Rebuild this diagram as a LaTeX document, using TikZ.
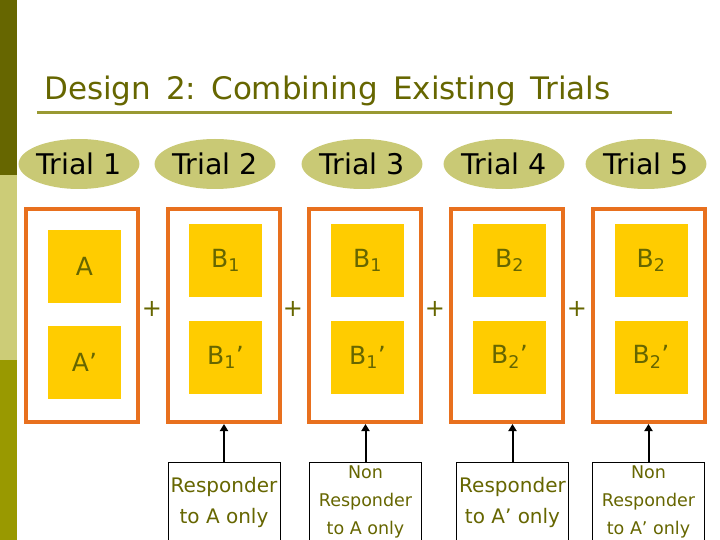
\documentclass[tikz,border=0pt]{standalone}
\usepackage{fontspec}
\setmainfont{DejaVu Sans}
\usetikzlibrary{arrows.meta,shapes.geometric}
\definecolor{olivedark}{HTML}{666600}
\definecolor{olivemid}{HTML}{999900}
\definecolor{olivelight}{HTML}{CCCC77}
\definecolor{ellfill}{HTML}{C9C975}
\definecolor{boxorange}{HTML}{E8701E}
\definecolor{sqyellow}{HTML}{FFCC00}
\definecolor{rulecol}{HTML}{999933}
\newcommand{\tsp}{\hspace{15pt}}
\tikzset{
  trialell/.style={ellipse, fill=ellfill, minimum width=108pt, minimum height=50pt, inner sep=0pt, font=\fontsize{28.5}{32}\selectfont, text=black},
  trialbox/.style={draw=boxorange, line width=4pt, minimum width=112pt, minimum height=213pt, inner sep=0pt},
  sq/.style={fill=sqyellow, minimum width=73pt, minimum height=73pt, inner sep=0pt, text=olivedark, font=\fontsize{25}{29}\selectfont},
  plussign/.style={text=olivedark, font=\fontsize{24}{28}\selectfont, inner sep=0pt},
  notebox/.style={draw=black, line width=1pt, minimum width=112pt, minimum height=80pt, inner sep=0pt, align=center, text=olivedark},
  upar/.style={-{Triangle[width=8pt,length=7pt]}, line width=2pt, black}
}
\begin{document}
\begin{tikzpicture}[x=1pt,y=-1pt]
\useasboundingbox (0,0) rectangle (720,540);
\fill[white] (0,0) rectangle (720,540);
% left bar
\fill[olivedark] (0,0) rectangle (17,175);
\fill[olivelight] (0,175) rectangle (17,360);
\fill[olivemid] (0,360) rectangle (17,540);
% title
\node[anchor=base west, inner sep=0pt, text=olivedark, font=\fontsize{31}{36}\selectfont] (title) at (44,100) {Design\tsp 2:\tsp Combining\tsp Existing\tsp Trials};
\draw[rulecol, line width=3pt] (37,113) -- (672,113);
% trial labels
\node[trialell] (t1) at (79,164) {Trial 1};
\node[trialell] (t2) at (215,164) {Trial 2};
\node[trialell] (t3) at (362,164) {Trial 3};
\node[trialell] (t4) at (504,164) {Trial 4};
\node[trialell] (t5) at (646,164) {Trial 5};
% orange boxes
\node[trialbox] (b1) at (82,315.5) {};
\node[trialbox] (b2) at (224,315.5) {};
\node[trialbox] (b3) at (365,315.5) {};
\node[trialbox] (b4) at (507,315.5) {};
\node[trialbox] (b5) at (649,315.5) {};
% squares
\node[sq] (s1a) at (84.5,266.5) {A};
\node[sq] (s1b) at (84.5,362) {A’};
\node[sq] (s2a) at (225.5,260.5) {B\textsubscript{1}};
\node[sq] (s2b) at (225.5,357) {B\textsubscript{1}’};
\node[sq] (s3a) at (367.5,260.5) {B\textsubscript{1}};
\node[sq] (s3b) at (367.5,357) {B\textsubscript{1}’};
\node[sq] (s4a) at (509.5,260.5) {B\textsubscript{2}};
\node[sq] (s4b) at (509.5,357) {B\textsubscript{2}’};
\node[sq] (s5a) at (651,260.5) {B\textsubscript{2}};
\node[sq] (s5b) at (651,357) {B\textsubscript{2}’};
% plus signs
\node[plussign] (p1) at (152,309) {+};
\node[plussign] (p2) at (293,309) {+};
\node[plussign] (p3) at (435,309) {+};
\node[plussign] (p4) at (577,309) {+};
% note boxes
\node[notebox, font=\fontsize{20}{31}\selectfont] (n2) at (224,502) {Responder\\to A only};
\node[notebox, font=\fontsize{17.5}{28}\selectfont] (n3) at (365.5,502) {Non\\Responder\\to A only};
\node[notebox, font=\fontsize{20}{31}\selectfont] (n4) at (512.5,502) {Responder\\to A’ only};
\node[notebox, font=\fontsize{17.5}{28}\selectfont] (n5) at (648.5,502) {Non\\Responder\\to A’ only};
% arrows
\draw[upar] (n2.north) -- (n2.north |- b2.south);
\draw[upar] (n3.north) -- (n3.north |- b3.south);
\draw[upar] (n4.north) -- (n4.north |- b4.south);
\draw[upar] (n5.north) -- (n5.north |- b5.south);
\end{tikzpicture}
\end{document}
